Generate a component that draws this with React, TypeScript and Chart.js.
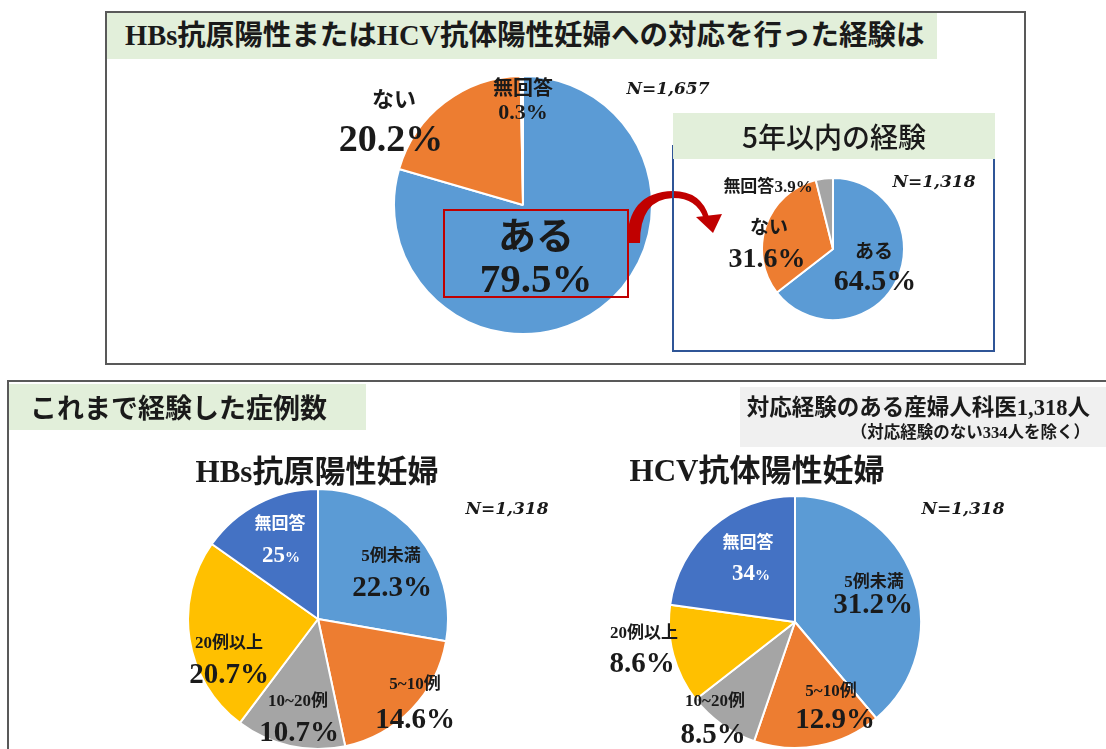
import React, { useEffect, useRef } from "react";
import { Chart, registerables } from "chart.js";

Chart.register(...registerables);

// ---------- data ----------
const experienceLabels = ["ある", "ない", "無回答"];
const experienceValues = [79.5, 20.2, 0.3];
const experienceN = "N=1,657";

const recentLabels = ["ある", "ない", "無回答"];
const recentValues = [64.5, 31.6, 3.9];
const recentN = "N=1,318";

const caseCategories = ["5例未満", "5~10例", "10~20例", "20例以上", "無回答"];
// slice sizes as drawn in the reference pies
const hbsValues = [27.7, 18.9, 13.6, 24.5, 15.2];
const hbsPrinted = ["22.3%", "14.6%", "10.7%", "20.7%", "25%"];
const hcvValues = [38.8, 16.4, 9.2, 12.7, 22.8];
const hcvPrinted = ["31.2%", "12.9%", "8.5%", "8.6%", "34%"];
const casesN = "N=1,318";

// ---------- styles ----------
const BLUE = "#5b9bd5";
const ORANGE = "#ed7d31";
const GRAY = "#a5a5a5";
const YELLOW = "#ffc000";
const DBLUE = "#4472c4";
const GREEN_BAND = "#e2efda";

const MIX = '"Liberation Serif", "Noto Sans CJK JP", serif';
const ITAL = '"DejaVu Serif", "Liberation Serif", serif';
const GOTHIC = '"Noto Sans CJK JP", "Noto Sans", sans-serif';

type PieProps = { cx: number; cy: number; r: number; values: number[]; labels: string[]; colors: string[] };

function Pie({ cx, cy, r, values, labels, colors }: PieProps) {
  const ref = useRef<HTMLCanvasElement>(null);
  const pad = 2;
  const size = 2 * r + 2 * pad;
  useEffect(() => {
    if (!ref.current) return;
    const chart = new Chart(ref.current, {
      type: "pie",
      data: {
        labels,
        datasets: [
          {
            data: values,
            backgroundColor: colors,
            borderColor: "#ffffff",
            borderWidth: 2,
          },
        ],
      },
      options: {
        responsive: false,
        animation: false,
        layout: { padding: 0 },
        plugins: { legend: { display: false }, tooltip: { enabled: false } },
      },
    });
    return () => chart.destroy();
  }, []);
  return (
    <canvas
      ref={ref}
      width={size}
      height={size}
      style={{ position: "absolute", left: cx - r - pad, top: cy - r - pad, width: size, height: size }}
    />
  );
}

type TProps = {
  x: number;
  y: number;
  size: number;
  children: React.ReactNode;
  bold?: boolean;
  italic?: boolean;
  color?: string;
  family?: string;
  anchor?: "center" | "left" | "right";
};

function T({ x, y, size, children, bold = true, italic = false, color = "#1a1a1a", family = MIX, anchor = "center" }: TProps) {
  const tx = anchor === "center" ? "-50%" : anchor === "right" ? "-100%" : "0";
  return (
    <div
      style={{
        position: "absolute",
        left: x,
        top: y,
        transform: `translate(${tx}, -50%)`,
        fontSize: size,
        fontWeight: bold ? 700 : 400,
        fontStyle: italic ? "italic" : "normal",
        color,
        fontFamily: family,
        whiteSpace: "nowrap",
        lineHeight: 1,
      }}
    >
      {children}
    </div>
  );
}

function Box({ l, t, w, h, bg, border }: { l: number; t: number; w: number; h: number; bg?: string; border?: string }) {
  return (
    <div
      style={{
        position: "absolute",
        left: l,
        top: t,
        width: w,
        height: h,
        background: bg || "transparent",
        border: border || "none",
        boxSizing: "border-box",
      }}
    />
  );
}

export default function App() {
  const caseColors = [BLUE, ORANGE, GRAY, YELLOW, DBLUE];
  return (
    <div
      style={{
        position: "absolute",
        left: 0,
        top: 0,
        width: 1106,
        height: 749,
        background: "#ffffff",
        overflow: "hidden",
      }}
    >
      {/* ===== top panel ===== */}
      <Box l={105} t={11} w={921} h={354} border="2px solid #595959" />
      <Box l={107} t={13} w={830} h={46} bg={GREEN_BAND} />
      <T x={125} y={36} size={28.5} anchor="left">
        HBs抗原陽性またはHCV抗体陽性妊婦への対応を行った経験は
      </T>

      <Pie cx={523} cy={205} r={128} values={experienceValues} labels={experienceLabels} colors={[BLUE, ORANGE, "#ffffff"]} />

      <T x={394} y={97} size={22} family={GOTHIC}>{experienceLabels[1]}</T>
      <T x={391} y={138} size={38}>{experienceValues[1]}%</T>
      <T x={523} y={87} size={20} family={GOTHIC}>{experienceLabels[2]}</T>
      <T x={523} y={112} size={22}>{experienceValues[2]}%</T>
      <T x={668} y={88} size={17} italic family={ITAL}>{experienceN}</T>

      <Box l={443} t={209} w={186} h={89} border="2px solid #c00000" />
      <T x={536} y={233} size={38} family={GOTHIC}>{experienceLabels[0]}</T>
      <T x={536} y={278} size={41}>{experienceValues[0]}%</T>

      {/* curved arrow */}
      <svg width={1106} height={749} style={{ position: "absolute", left: 0, top: 0, pointerEvents: "none" }}>
        <path
          d="M 627 243 Q 627 192 673 191 Q 701 191 709 217 L 704 219 Q 697 198 673 198 Q 640 199 640 243 Z"
          fill="#c00000"
        />
        <path d="M 696 217 L 722 214 L 713 233 Z" fill="#c00000" />
      </svg>

      {/* inner box */}
      <Box l={672} t={145} w={323} h={207} border="2px solid #2f5597" />
      <Box l={673} t={113} w={322} h={46} bg={GREEN_BAND} />
      <T x={834} y={136} size={28} family={GOTHIC} bold={false}>
        <span style={{ fontWeight: 500 }}>5年以内の経験</span>
      </T>

      <Pie cx={833} cy={249} r={70} values={recentValues} labels={recentLabels} colors={[BLUE, ORANGE, GRAY]} />
      <T x={768} y={186} size={17}>
        {recentLabels[2]}
        {recentValues[2]}%
      </T>
      <T x={934} y={181} size={17} italic family={ITAL}>{recentN}</T>
      <T x={769} y={225} size={19} family={GOTHIC}>{recentLabels[1]}</T>
      <T x={767} y={258} size={28}>{recentValues[1]}%</T>
      <T x={874} y={249} size={19} family={GOTHIC}>{recentLabels[0]}</T>
      <T x={875} y={280} size={30}>{recentValues[0]}%</T>

      {/* ===== bottom panel ===== */}
      <div style={{ position: "absolute", left: 7, top: 380, width: 1099, height: 2, background: "#595959" }} />
      <div style={{ position: "absolute", left: 7, top: 380, width: 2, height: 369, background: "#595959" }} />
      <Box l={9} t={384} w={357} h={46} bg={GREEN_BAND} />
      <T x={30} y={406} size={27} family={GOTHIC} anchor="left">
        これまで経験した症例数
      </T>

      <Box l={740} t={387} w={366} h={60} bg="#f0f0f0" />
      <T x={1090} y={408} size={22.5} anchor="right">
        対応経験のある産婦人科医1,318人
      </T>
      <T x={1090} y={433} size={16.5} anchor="right">
        （対応経験のない334人を除く）
      </T>

      <T x={317} y={471} size={31}>HBs抗原陽性妊婦</T>
      <T x={757} y={470} size={31}>HCV抗体陽性妊婦</T>
      <T x={507} y={508} size={17} italic family={ITAL}>{casesN}</T>
      <T x={963} y={508} size={17} italic family={ITAL}>{casesN}</T>

      <Pie cx={318} cy={619} r={129} values={hbsValues} labels={caseCategories} colors={caseColors} />
      <Pie cx={795} cy={622} r={125} values={hcvValues} labels={caseCategories} colors={caseColors} />

      {/* HBs labels */}
      <T x={391} y={555} size={17}>{caseCategories[0]}</T>
      <T x={392} y={586} size={29}>{hbsPrinted[0]}</T>
      <T x={415} y={683} size={17}>{caseCategories[1]}</T>
      <T x={415} y={718} size={29}>{hbsPrinted[1]}</T>
      <T x={298} y={700} size={17}>{caseCategories[2]}</T>
      <T x={299} y={731} size={29}>{hbsPrinted[2]}</T>
      <T x={229} y={642} size={17}>{caseCategories[3]}</T>
      <T x={229} y={673} size={29}>{hbsPrinted[3]}</T>
      <T x={280} y={523} size={17} color="#ffffff">{caseCategories[4]}</T>
      <T x={281} y={554} size={23} color="#ffffff">
        25<span style={{ fontSize: 15 }}>%</span>
      </T>

      {/* HCV labels */}
      <T x={874} y={581} size={17}>{caseCategories[0]}</T>
      <T x={873} y={603} size={29}>{hcvPrinted[0]}</T>
      <T x={831} y={690} size={17}>{caseCategories[1]}</T>
      <T x={835} y={718} size={29}>{hcvPrinted[1]}</T>
      <T x={715} y={700} size={17}>{caseCategories[2]}</T>
      <T x={713} y={733} size={29}>{hcvPrinted[2]}</T>
      <T x={644} y={632} size={17}>{caseCategories[3]}</T>
      <T x={642} y={662} size={29}>{hcvPrinted[3]}</T>
      <T x={748} y={542} size={17} color="#ffffff">{caseCategories[4]}</T>
      <T x={751} y={572} size={23} color="#ffffff">
        34<span style={{ fontSize: 15 }}>%</span>
      </T>
    </div>
  );
}
